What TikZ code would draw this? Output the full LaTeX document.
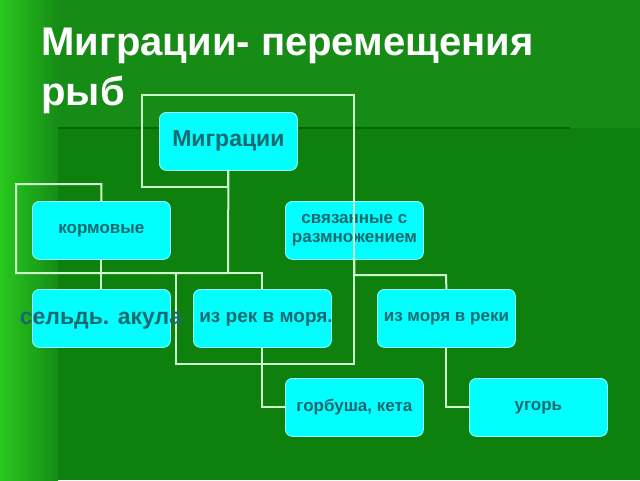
\documentclass[tikz,border=0pt]{standalone}
\usepackage{fontspec}
\setmainfont{Liberation Sans}
\definecolor{bgA}{RGB}{22,140,22}
\definecolor{bgB}{RGB}{14,128,14}
\definecolor{bgL}{RGB}{40,200,30}
\definecolor{boxc}{RGB}{0,255,255}
\definecolor{txt}{RGB}{25,105,110}
\begin{document}
\begin{tikzpicture}[x=1pt,y=-1pt,
  box/.style={draw=white!60!boxc,line width=0.8pt,fill=boxc,rounded corners=7pt,minimum width=138pt,minimum height=58pt,anchor=north west,inner sep=0pt,text=txt,font=\bfseries\fontsize{17}{19}\selectfont,align=center},
  wire/.style={draw=white!80!green,line width=2pt},
  ttl/.style={anchor=north west,font=\bfseries\fontsize{40}{46}\selectfont,align=left}]
\fill[bgA] (0,0) rectangle (640,480);
\shade[left color=bgL,right color=bgA] (0,0) rectangle (58,480);
\fill[bgB] (58,128) rectangle (640,480);
\draw[black!60!green,line width=2pt] (58,128) -- (570,128);
\node[ttl,text=white] (title) at (38,24) {Миграции- перемещения\\[4pt]рыб};
\node[box,font=\bfseries\fontsize{23}{25}\selectfont] (mig) at (159,112) {Миграции};
\node[box] (korm) at (32,201) {кормовые};
\node[box] (sv) at (285,201) {связанные с\\размножением};
\node[box] (sel) at (32,289) {};
\node[box] (rek) at (193,289) {};
\node[box] (mor) at (377,289) {из моря в реки};
\node[box] (gorb) at (285,378) {горбуша, кета};
\node[box] (ug) at (469,378) {угорь};
\draw[wire] (mig.south) |- (142,187) -- (142,95) -- (354,95) -- (354,364) -- (176,364) -- (176,273) -| (rek.north);
\draw[wire] (mig.south) -- (228,273) -- (16,273) -- (16,184) -| (korm.north);
\draw[wire] (korm.south) -- (sel.north);
\draw[wire] (sv.south) |- (446,275) -- (mor.north);
\draw[wire] (rek.south) |- (gorb.west);
\draw[wire] (mor.south) |- (ug.west);
\node[text=txt,font=\bfseries\fontsize{23}{25}\selectfont] (selt) at (101,321) {сельдь. акула};
\node[text=txt,font=\bfseries\fontsize{19}{21}\selectfont] (rekt) at (266,319) {из рек в моря.};
\end{tikzpicture}
\end{document}
